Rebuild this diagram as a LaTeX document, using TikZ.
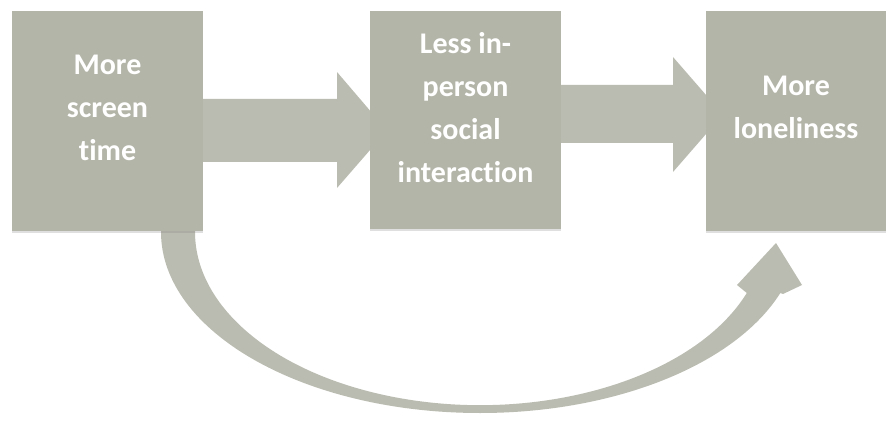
\documentclass[tikz,border=0pt]{standalone}
\usepackage{fontspec}
\setmainfont{Carlito}[Ligatures={NoCommon}]
\usetikzlibrary{shadows}
\definecolor{boxgrey}{RGB}{180,181,169}
\definecolor{arrowgrey}{RGB}{187,188,177}
\tikzset{
  stepbox/.style={fill=boxgrey, draw=none, drop shadow={shadow xshift=0pt, shadow yshift=-2pt, opacity=0.25}},
  boxtext/.style={text=white, align=center, inner sep=0pt, font=\bfseries\fontsize{30}{43}\selectfont},
  arrowshape/.style={fill=arrowgrey, draw=none}
}
\begin{document}
\begin{tikzpicture}[x=1pt,y=1pt]
\useasboundingbox (0,0) rectangle (889,421);
% straight arrows
\draw[arrowshape] (195,322) -- (337,322) -- (337,349) -- (387,290.5) -- (337,233) -- (337,259) -- (195,259) -- cycle;
\draw[arrowshape] (553,336) -- (673,336) -- (673,364) -- (723,306.5) -- (673,249) -- (673,278) -- (553,278) -- cycle;
% curved arrow
\draw[arrowshape] (161,200) -- (161,189) arc[start angle=180, end angle=340.3, x radius=319, y radius=181]
  -- (783,127) -- (802,136) -- (776,178) -- (737,136) -- (746.8,128)
  arc[start angle=339.4, end angle=180, x radius=285, y radius=173] -- (195,200) -- cycle;
% boxes
\path[stepbox] (12,190) rectangle (203,410);
\path[stepbox] (370,192) rectangle (561,410);
\path[stepbox] (706,190) rectangle (886,410);
\node[boxtext] (a) at (107.5,313) {More\\screen\\time};
\node[boxtext] (b) at (465.5,313) {Less in-\\person\\social\\interaction};
\node[boxtext] (c) at (796,314) {More\\loneliness};
\end{tikzpicture}
\end{document}
